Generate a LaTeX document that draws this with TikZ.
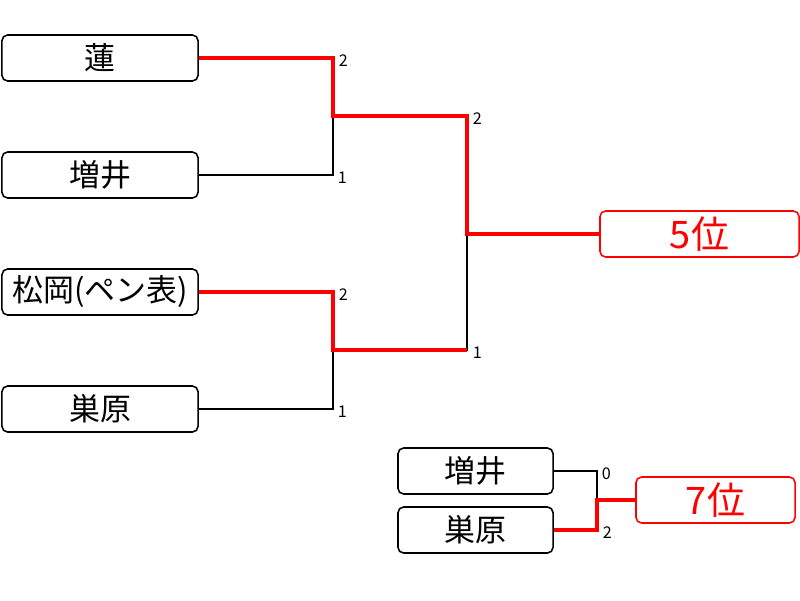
\documentclass[tikz,border=0pt]{standalone}
\usepackage{fontspec}
\newfontfamily\jp{Noto Sans CJK JP}
\begin{document}
\begin{tikzpicture}[x=0.025cm,y=-0.025cm,
    player/.style={draw,line width=1.1pt,rounded corners=4pt,minimum height=1.15cm,inner sep=0pt,font=\jp\fontsize{22}{22}\selectfont},
    rank/.style={player,draw=red,text=red,font=\jp\fontsize{27}{27}\selectfont},
    win/.style={red,line width=2.2pt},
    lose/.style={black,line width=0.8pt},
    score/.style={anchor=west,text=black,inner sep=3pt,yshift=-2pt,font=\jp\fontsize{11.5}{11.5}\selectfont}]
    \useasboundingbox (0,0) rectangle (800,600);
    \node[player,minimum width=4.9cm] (ren) at (100,58) {蓮};
    \node[player,minimum width=4.9cm] (masui) at (100,175) {増井};
    \node[player,minimum width=4.9cm] (matsuoka) at (100,292) {松岡(ペン表)};
    \node[player,minimum width=4.9cm] (subara) at (100,409) {巣原};
    \node[rank,minimum width=4.975cm] (fifth) at (699.5,234) {5位};
    \node[player,minimum width=3.875cm] (masuiB) at (475.5,471) {増井};
    \node[player,minimum width=3.875cm] (subaraB) at (475.5,530) {巣原};
    \node[rank,minimum width=3.975cm] (seventh) at (715.5,500) {7位};
    \coordinate (j1) at (333,116);
    \coordinate (j2) at (333,350);
    \coordinate (j3) at (467,234);
    \coordinate (j4) at (597,500);
    \draw[lose] (masui.east) -| node[pos=.5,score] {1} (j1);
    \draw[lose] (subara.east) -| node[pos=.5,score] {1} (j2);
    \draw[lose] (j2) -| (j3);
    \draw[lose] (masuiB.east) -| node[pos=.5,score] {0} (j4);
    \draw[win] (ren.east) -| node[pos=.5,score] {2} (j1) -| node[pos=.5,score] {2} (j3) -- (fifth.west);
    \draw[win] (matsuoka.east) -| node[pos=.5,score] {2} (j2) -- node[pos=1,score] {1} (j2 -| j3);
    \draw[win] (subaraB.east) -| node[pos=.5,score] {2} (j4) -- (seventh.west);
\end{tikzpicture}
\end{document}
